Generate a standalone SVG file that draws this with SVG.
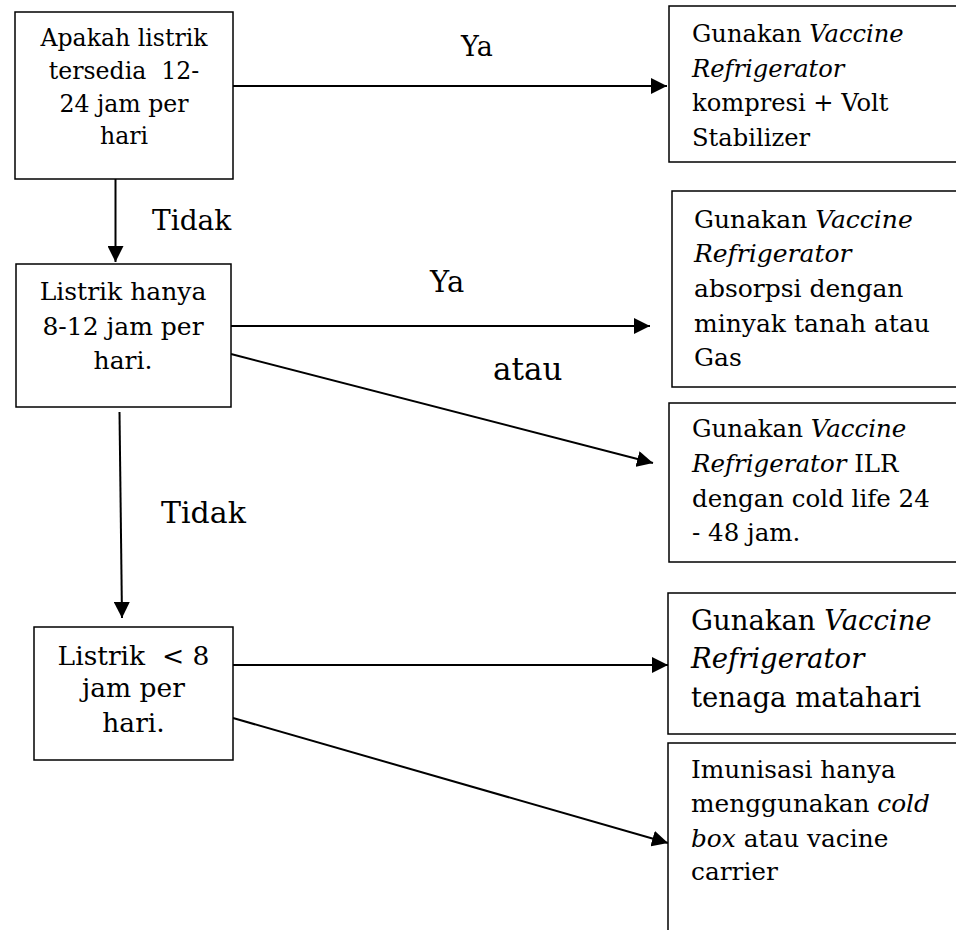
<svg xmlns="http://www.w3.org/2000/svg" width="956" height="930" viewBox="0 0 956 930">
<defs>
<style>
.box{fill:#fff;stroke:#000;stroke-width:1.5}
.t{font-family:"DejaVu Serif","Liberation Serif",serif;font-size:24px;fill:#000}
.lbl{font-family:"DejaVu Serif","Liberation Serif",serif;font-size:28px;fill:#000}
.c{stroke:#000;stroke-width:2;fill:none}
.i{font-style:italic}
</style>
<marker id="ah" markerUnits="userSpaceOnUse" markerWidth="16" markerHeight="16" refX="16" refY="8" orient="auto">
<path d="M0,0 L16,8 L0,16 z" fill="#000"/>
</marker>
</defs>
<rect width="956" height="930" fill="#fff"/>
<g id="connectors">
<line class="c" x1="233" y1="86" x2="667" y2="86" marker-end="url(#ah)"/>
<line class="c" x1="115.5" y1="179" x2="115.5" y2="262" marker-end="url(#ah)"/>
<line class="c" x1="231" y1="326" x2="650" y2="326" marker-end="url(#ah)"/>
<line class="c" x1="231" y1="354" x2="653" y2="463" marker-end="url(#ah)"/>
<line class="c" x1="119.5" y1="412" x2="122" y2="618" marker-end="url(#ah)"/>
<line class="c" x1="233" y1="665" x2="668" y2="665" marker-end="url(#ah)"/>
<line class="c" x1="233" y1="718" x2="668" y2="843" marker-end="url(#ah)"/>
<text class="lbl" x="461" y="56" style="font-size:27px">Ya</text>
<text class="lbl" x="152" y="230">Tidak</text>
<text class="lbl" x="430" y="292" style="font-size:29px">Ya</text>
<text class="lbl" x="493" y="380" style="font-size:31px">atau</text>
<text class="lbl" x="161" y="523" style="font-size:30px">Tidak</text>
</g>
<g id="n1">
<rect class="box" x="15" y="12" width="218" height="167"/>
<text class="t" style="font-size:23.6px" text-anchor="middle" xml:space="preserve"><tspan x="124" y="46">Apakah listrik</tspan><tspan x="124" y="79">tersedia  12-</tspan><tspan x="124" y="112">24 jam per</tspan><tspan x="124" y="144">hari</tspan></text>
</g>
<g id="n2">
<rect class="box" x="16" y="264" width="215" height="143"/>
<text class="t" style="font-size:25px" text-anchor="middle"><tspan x="123" y="300">Listrik hanya</tspan><tspan x="123" y="335">8-12 jam per</tspan><tspan x="123" y="369">hari.</tspan></text>
</g>
<g id="n3">
<rect class="box" x="34" y="627" width="199" height="133"/>
<text class="t" style="font-size:26.5px" text-anchor="middle" xml:space="preserve"><tspan x="133.5" y="665">Listrik  &lt; 8</tspan><tspan x="133.5" y="697">jam per</tspan><tspan x="133.5" y="732">hari.</tspan></text>
</g>
<g id="r1">
<rect class="box" x="669" y="6" width="320" height="156"/>
<text class="t" style="font-size:24.2px"><tspan x="692" y="42">Gunakan <tspan class="i">Vaccine</tspan></tspan><tspan class="i" x="692" y="77">Refrigerator</tspan><tspan x="692" y="111">kompresi + Volt</tspan><tspan x="692" y="146">Stabilizer</tspan></text>
</g>
<g id="r2">
<rect class="box" x="672" y="191" width="320" height="196"/>
<text class="t" style="font-size:25px"><tspan x="694" y="228">Gunakan <tspan class="i">Vaccine</tspan></tspan><tspan class="i" x="694" y="262">Refrigerator</tspan><tspan x="694" y="297">absorpsi dengan</tspan><tspan x="694" y="332">minyak tanah atau</tspan><tspan x="694" y="366">Gas</tspan></text>
</g>
<g id="r3">
<rect class="box" x="669" y="403" width="320" height="159"/>
<text class="t" style="font-size:24.5px"><tspan x="692" y="437">Gunakan <tspan class="i">Vaccine</tspan></tspan><tspan x="692" y="472"><tspan class="i">Refrigerator</tspan> ILR</tspan><tspan x="692" y="507">dengan cold life 24</tspan><tspan x="692" y="541">- 48 jam.</tspan></text>
</g>
<g id="r4">
<rect class="box" x="668" y="593" width="320" height="141"/>
<text class="t" style="font-size:27.5px"><tspan x="691" y="630">Gunakan <tspan class="i">Vaccine</tspan></tspan><tspan class="i" x="691" y="668">Refrigerator</tspan><tspan x="691" y="707">tenaga matahari</tspan></text>
</g>
<g id="r5">
<rect class="box" x="668" y="743" width="320" height="260"/>
<text class="t" style="font-size:24.8px"><tspan x="691" y="778">Imunisasi hanya</tspan><tspan x="691" y="812">menggunakan <tspan class="i">cold</tspan></tspan><tspan x="691" y="847"><tspan class="i">box</tspan> atau vacine</tspan><tspan x="691" y="880">carrier</tspan></text>
</g>
</svg>
